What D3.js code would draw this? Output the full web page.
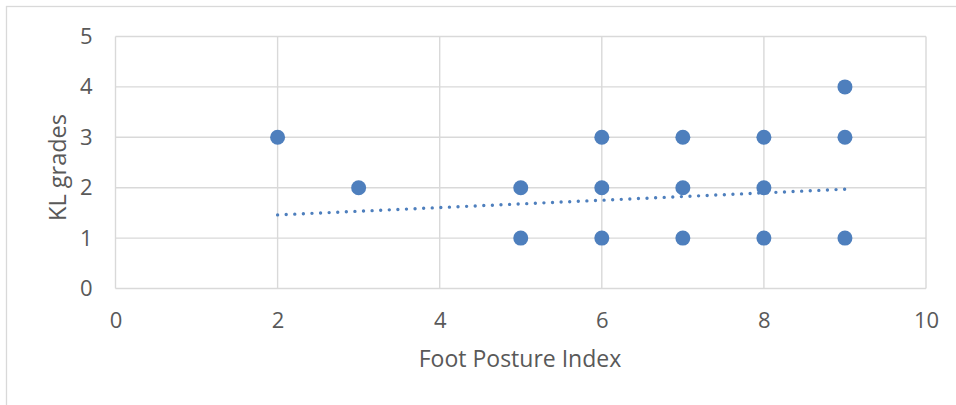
<!DOCTYPE html>
<html>
<head>
<meta charset="utf-8">
<script src="https://cdn.jsdelivr.net/npm/d3@7"></script>
<style>
  html, body { margin: 0; padding: 0; background: #fff; }
  svg { display: block; }
  text { font-family: "Open Sans", "Liberation Sans", sans-serif; fill: #595959; }
</style>
</head>
<body>
<svg id="chart" width="956" height="405"></svg>
<script>
// ---- data ----
const fpi      = [2, 3, 5, 5, 6, 6, 6, 7, 7, 7, 8, 8, 8, 9, 9, 9];
const klGrades = [3, 2, 2, 1, 3, 2, 1, 3, 2, 1, 3, 2, 1, 4, 3, 1];
const trendX   = [2, 9];
const trendY   = [1.46, 1.97];
const xTicks   = [0, 2, 4, 6, 8, 10];
const yTicks   = [0, 1, 2, 3, 4, 5];
const xTitle   = "Foot Posture Index";
const yTitle   = "KL grades";

// ---- layout ----
const svg = d3.select("#chart");
const pLeft = 115.5, pRight = 926, pTop = 36.5, pBottom = 288.5;
const x = d3.scaleLinear().domain([0, 10]).range([pLeft, pRight]);
const y = d3.scaleLinear().domain([0, 5]).range([pBottom, pTop]);
const grid = "#d9d9d9";
const blue = "#4e7fbd";
const font = '"Open Sans", "Liberation Sans", sans-serif';

// outer chart border
svg.append("rect")
  .attr("x", 6.5).attr("y", 6.5).attr("width", 1000).attr("height", 1000)
  .attr("fill", "none").attr("stroke", grid).attr("stroke-width", 1.3);

// grid lines
svg.append("g").selectAll("line").data(yTicks).join("line")
  .attr("x1", pLeft).attr("x2", pRight)
  .attr("y1", d => y(d)).attr("y2", d => y(d))
  .attr("stroke", grid).attr("stroke-width", 1.4);
svg.append("g").selectAll("line").data(xTicks).join("line")
  .attr("y1", pTop).attr("y2", pBottom)
  .attr("x1", d => x(d)).attr("x2", d => x(d))
  .attr("stroke", grid).attr("stroke-width", 1.4);

// axes (labels only)
const xAxis = svg.append("g")
  .attr("transform", `translate(0,${pBottom})`)
  .call(d3.axisBottom(x).tickValues(xTicks).tickSize(0).tickPadding(23.5).tickFormat(d3.format("d")));
const yAxis = svg.append("g")
  .attr("transform", `translate(${pLeft},0)`)
  .call(d3.axisLeft(y).tickValues(yTicks).tickSize(0).tickPadding(23).tickFormat(d3.format("d")));
[xAxis, yAxis].forEach(g => {
  g.select(".domain").remove();
  g.selectAll("text").attr("font-size", 22).attr("fill", "#595959").attr("font-family", font);
});

// trendline (dotted)
svg.append("path")
  .datum(trendX.map((d, i) => [d, trendY[i]]))
  .attr("d", d3.line().x(d => x(d[0])).y(d => y(d[1])))
  .attr("fill", "none").attr("stroke", blue)
  .attr("stroke-width", 3.4).attr("stroke-linecap", "round")
  .attr("stroke-dasharray", "0 8.6");

// points
svg.append("g").selectAll("circle").data(fpi.map((d, i) => [d, klGrades[i]])).join("circle")
  .attr("cx", d => x(d[0])).attr("cy", d => y(d[1]))
  .attr("r", 7.5).attr("fill", blue);

// axis titles
svg.append("text")
  .attr("x", 520).attr("y", 366.5)
  .attr("text-anchor", "middle").attr("font-size", 23).attr("font-family", font)
  .text(xTitle);
svg.append("text")
  .attr("transform", `translate(66,167.5) rotate(-90)`)
  .attr("text-anchor", "middle").attr("font-size", 23.5).attr("font-family", font)
  .text(yTitle);
</script>
</body>
</html>
